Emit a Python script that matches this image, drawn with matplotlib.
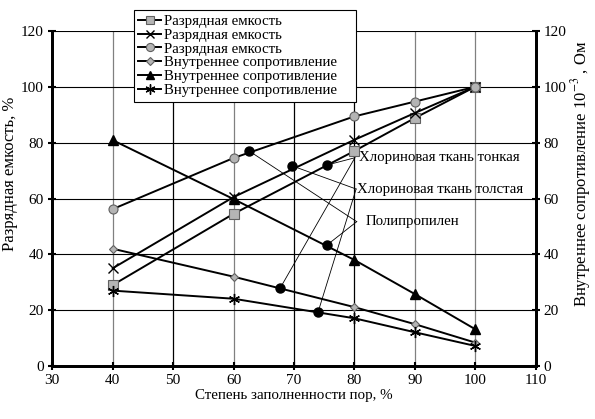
import matplotlib
matplotlib.use("Agg")
import matplotlib.pyplot as plt

plt.rcParams['font.family'] = ['Liberation Serif', 'DejaVu Serif']
plt.rcParams['mathtext.fontset'] = 'stix'

x = [40, 60, 80, 90, 100]
cap_square = [29, 54.5, 77, 88.8, 100]
cap_x = [35, 60.5, 81, 90.6, 100]
cap_circle = [56.2, 74.5, 89.4, 94.7, 100]
res_diamond = [42, 32, 21.1, 15, 8.4]
res_triangle = [80.9, 59.8, 38, 25.8, 13.2]
res_star = [27, 24.1, 17.1, 12.1, 7.2]

cap_label = "Разрядная емкость"
res_label = "Внутреннее сопротивление"

# annotation dots (x, y) on curves
dots_x = [62.6, 69.7, 75.5, 75.4, 67.7, 74.0]
dots_y = [77.0, 71.7, 72.0, 43.2, 27.8, 19.3]
# label texts and their anchor points
labels = ["Хлориновая ткань тонкая", "Хлориновая ткань толстая", "Полипропилен"]
label_x = [80.1, 80.3, 80.4]
label_y = [74.6, 63.4, 51.7]
text_x = [80.8, 80.5, 81.8]
# which dots go to which label
links = [(2, 0), (4, 0), (1, 1), (5, 1), (0, 2), (3, 2)]

fig = plt.figure(figsize=(5.95, 4.19), dpi=100)
ax = fig.add_axes([0.0879, 0.1265, 0.9 - 0.0879, 0.926 - 0.1265])
ax2 = ax.twinx()

ax.set_xlim(30, 110)
ax.set_ylim(0, 120)
ax2.set_ylim(0, 120)
ax.set_xticks(range(30, 111, 10))
ax.set_yticks(range(0, 121, 20))
ax2.set_yticks(range(0, 121, 20))

# grid
for gx in range(40, 110, 10):
    col = '#808080' if gx in (40, 60, 90, 100) else 'black'
    ax.axvline(gx, color=col, lw=0.9, zorder=0)
for gy in range(20, 121, 20):
    ax.axhline(gy, color='black', lw=0.8, zorder=0)

lw = 1.4
ax.plot(x, cap_square, '-', color='black', lw=lw, marker='s', ms=6.5,
        mfc='#b4b4b4', mec='#606060', mew=0.8, label=cap_label, zorder=3)
ax.plot(x, cap_x, '-', color='black', lw=lw, marker='x', ms=7,
        mec='black', mew=1.0, label=cap_label, zorder=3)
ax.plot(x, cap_circle, '-', color='black', lw=lw, marker='o', ms=6.5,
        mfc='#b4b4b4', mec='#606060', mew=0.8, label=cap_label, zorder=3)
ax2.plot(x, res_diamond, '-', color='black', lw=lw, marker='D', ms=4.5,
         mfc='#b4b4b4', mec='#606060', mew=0.8, label=res_label, zorder=3)
ax2.plot(x, res_triangle, '-', color='black', lw=lw, marker='^', ms=6.5,
         mfc='black', mec='black', label=res_label, zorder=3)
ax2.plot(x, res_star, '-', color='black', lw=lw, marker=(6, 2, 0), ms=8,
         mec='black', mew=1.0, label=res_label, zorder=3)

# annotation lines and dots
for di, li in links:
    ax.plot([dots_x[di], label_x[li]], [dots_y[di], label_y[li]],
            color='black', lw=0.6, zorder=2)
ax.plot(dots_x, dots_y, 'o', color='black', ms=6.5, zorder=4)
for t, tx, ty in zip(labels, text_x, label_y):
    ax.text(tx, ty, t, fontsize=10.7, va='center', ha='left', zorder=5)

# spines and ticks
for side in ('left', 'bottom', 'right'):
    ax.spines[side].set_linewidth(2)
    ax2.spines[side].set_linewidth(2)
ax.spines['top'].set_visible(False)
ax2.spines['top'].set_visible(False)
ax.tick_params(direction='inout', length=6, width=1.5, labelsize=11, pad=3)
ax2.tick_params(direction='inout', length=6, width=1.5, labelsize=11, pad=3)

ax.set_xlabel("Степень заполненности пор, %", fontsize=10.8, labelpad=1)
ax.set_ylabel("Разрядная емкость, %", fontsize=12, labelpad=1)
ax.yaxis.set_label_coords(-0.072, 0.575)
ax2.set_ylabel("Внутреннее сопротивление 10$^{-3}$ , Ом", fontsize=12,
               labelpad=4)
ax2.yaxis.set_label_coords(1.07, 0.575)

h1, l1 = ax.get_legend_handles_labels()
h2, l2 = ax2.get_legend_handles_labels()
leg = fig.legend(h1 + h2, l1 + l2, loc='upper left',
                 bbox_to_anchor=(134 / 595, 1 - 100 / 419, 222 / 595, 90 / 419),
                 mode='expand', fontsize=10.7,
                 frameon=True, fancybox=False, framealpha=1,
                 edgecolor='black', handlelength=1.5, handletextpad=0.2,
                 labelspacing=0.03, borderpad=0.3, borderaxespad=0,
                 markerscale=0.9)
leg.get_frame().set_linewidth(0.8)
leg.set_zorder(10)

fig.savefig("out.png", dpi=100)
